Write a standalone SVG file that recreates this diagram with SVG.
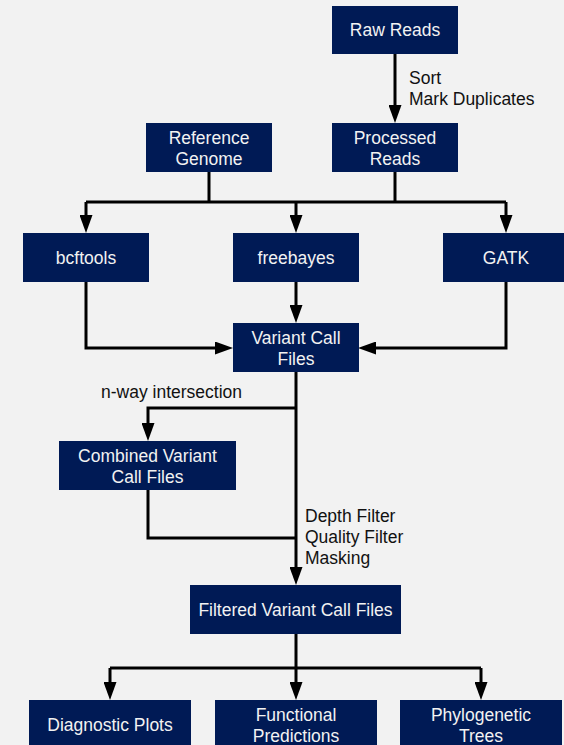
<svg xmlns="http://www.w3.org/2000/svg" width="564" height="745" viewBox="0 0 564 745">
<defs>
<style>
.box{fill:#001a55;}
.t{font-family:"Liberation Sans",Arial,Helvetica,sans-serif;font-size:17.5px;fill:#f2f2f2;text-anchor:middle;}
.lbl{font-family:"Liberation Sans",Arial,Helvetica,sans-serif;font-size:17.5px;fill:#111;}
.c{fill:none;stroke:#000;stroke-width:3;}
</style>
<marker id="ah" markerUnits="userSpaceOnUse" viewBox="0 0 18 13" refX="8" refY="6.5" markerWidth="18" markerHeight="13" orient="auto">
<path d="M0,0 L18,6.5 L0,13 z" fill="#000"/>
</marker>
</defs>
<rect x="0" y="0" width="564" height="745" fill="#f2f2f2"/>
<g id="connectors">
<path class="c" d="M395,54 V113" marker-end="url(#ah)"/>
<path class="c" d="M209,172 V202"/>
<path class="c" d="M395,172 V202"/>
<path class="c" d="M86,202 H506"/>
<path class="c" d="M86,202 V223" marker-end="url(#ah)"/>
<path class="c" d="M296,202 V223" marker-end="url(#ah)"/>
<path class="c" d="M506,202 V223" marker-end="url(#ah)"/>
<path class="c" d="M296,282 V313" marker-end="url(#ah)"/>
<path class="c" d="M86,282 V348 H223" marker-end="url(#ah)"/>
<path class="c" d="M506,282 V348 H368" marker-end="url(#ah)"/>
<path class="c" d="M296,372 V575" marker-end="url(#ah)"/>
<path class="c" d="M296,408 H148 V431" marker-end="url(#ah)"/>
<path class="c" d="M148,490 V538 H296"/>
<path class="c" d="M296,634 V668"/>
<path class="c" d="M110,668 H481"/>
<path class="c" d="M110,668 V690" marker-end="url(#ah)"/>
<path class="c" d="M296,668 V690" marker-end="url(#ah)"/>
<path class="c" d="M481,668 V690" marker-end="url(#ah)"/>
<text class="lbl" x="409" y="84">Sort</text>
<text class="lbl" x="409" y="105">Mark Duplicates</text>
<text class="lbl" x="101" y="398">n-way intersection</text>
<text class="lbl" x="305" y="522">Depth Filter</text>
<text class="lbl" x="305" y="543">Quality Filter</text>
<text class="lbl" x="305" y="564">Masking</text>
</g>
<g id="raw-reads"><rect class="box" x="332" y="6" width="126" height="48"/><text class="t" x="395" y="36">Raw Reads</text></g>
<g id="reference-genome"><rect class="box" x="146" y="123" width="126" height="49"/><text class="t" x="209" y="144">Reference</text><text class="t" x="209" y="165">Genome</text></g>
<g id="processed-reads"><rect class="box" x="332" y="123" width="126" height="49"/><text class="t" x="395" y="144">Processed</text><text class="t" x="395" y="165">Reads</text></g>
<g id="bcftools"><rect class="box" x="23" y="233" width="126" height="49"/><text class="t" x="86" y="264">bcftools</text></g>
<g id="freebayes"><rect class="box" x="233" y="233" width="126" height="49"/><text class="t" x="296" y="264">freebayes</text></g>
<g id="gatk"><rect class="box" x="443" y="233" width="126" height="49"/><text class="t" x="506" y="264">GATK</text></g>
<g id="variant-call-files"><rect class="box" x="233" y="323" width="126" height="49"/><text class="t" x="296" y="344">Variant Call</text><text class="t" x="296" y="365">Files</text></g>
<g id="combined-variant-call-files"><rect class="box" x="59" y="441" width="177" height="49"/><text class="t" x="147.5" y="462">Combined Variant</text><text class="t" x="147.5" y="483">Call Files</text></g>
<g id="filtered-variant-call-files"><rect class="box" x="190" y="585" width="211" height="49"/><text class="t" x="295.5" y="616">Filtered Variant Call Files</text></g>
<g id="diagnostic-plots"><rect class="box" x="29" y="700" width="162" height="49"/><text class="t" x="110" y="731">Diagnostic Plots</text></g>
<g id="functional-predictions"><rect class="box" x="215" y="700" width="162" height="49"/><text class="t" x="296" y="721">Functional</text><text class="t" x="296" y="742">Predictions</text></g>
<g id="phylogenetic-trees"><rect class="box" x="400" y="700" width="162" height="49"/><text class="t" x="481" y="721">Phylogenetic</text><text class="t" x="481" y="742">Trees</text></g>
</svg>
